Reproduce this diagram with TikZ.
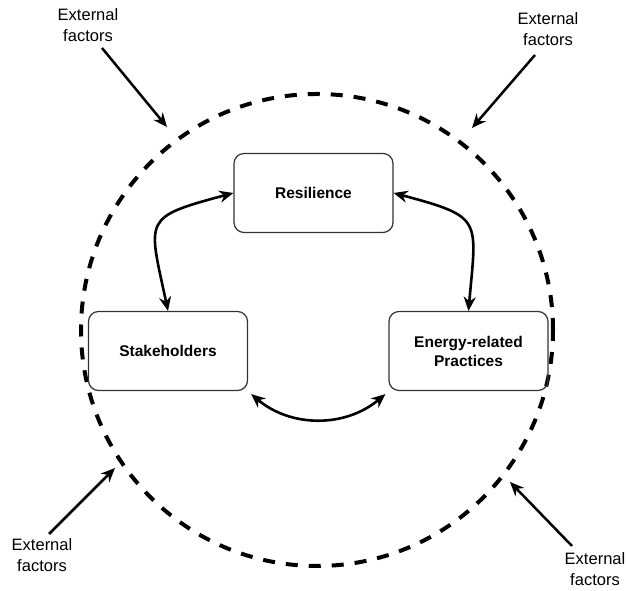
\documentclass[tikz,border=0pt]{standalone}
\usepackage{fontspec}
\setmainfont{Liberation Sans}
\usetikzlibrary{arrows.meta}
\begin{document}
\begin{tikzpicture}[x=1pt,y=1pt,
    box/.style={draw=black!80,line width=1.2pt,rounded corners=10pt,minimum width=159pt,minimum height=79pt,align=center,font=\fontsize{15.5}{19}\selectfont\bfseries},
    ext/.style={align=center,font=\fontsize{16.5}{20.5}\selectfont},
    tip/.tip={Stealth[length=14pt,width=12pt,inset=4.5pt]},
    link/.style={line width=2.6pt,tip-tip},
    push/.style={line width=2.5pt,-tip}]
\useasboundingbox (0,0) rectangle (627,591);

% system boundary
\draw[line width=4pt,dash pattern=on 12pt off 11pt] (317,261) circle (236);

\node[box] (res) at (313.5,398) {Resilience};
\node[box] (stk) at (168,240) {Stakeholders};
\node[box] (erp) at (468.5,240) {Energy-related\\Practices};

\draw[link] (res.west) to[out=195,in=102,looseness=1.8] (stk.north);
\draw[link] (res.east) to[out=-15,in=85,looseness=1.7] (erp.north);
\draw[link] ([shift={(3,-3)}]stk.south east) to[out=-40,in=-140] ([shift={(-3,-3)}]erp.south west);

% external factors
\foreach \n/\tx/\ty/\sx/\sy/\ex/\ey in {1/88/566/102/543/167/464,
    2/548/562/535/536/472/463,
    3/42/36/49/57/115/123,
    4/595/22/572/45/510/109}{
  \node[ext] (ext\n) at (\tx,\ty) {External\\factors};
  \coordinate (s\n) at (\sx,\sy);
  \coordinate (e\n) at (\ex,\ey);
  \draw[push] (s\n) -- (e\n);
}

\end{tikzpicture}
\end{document}
